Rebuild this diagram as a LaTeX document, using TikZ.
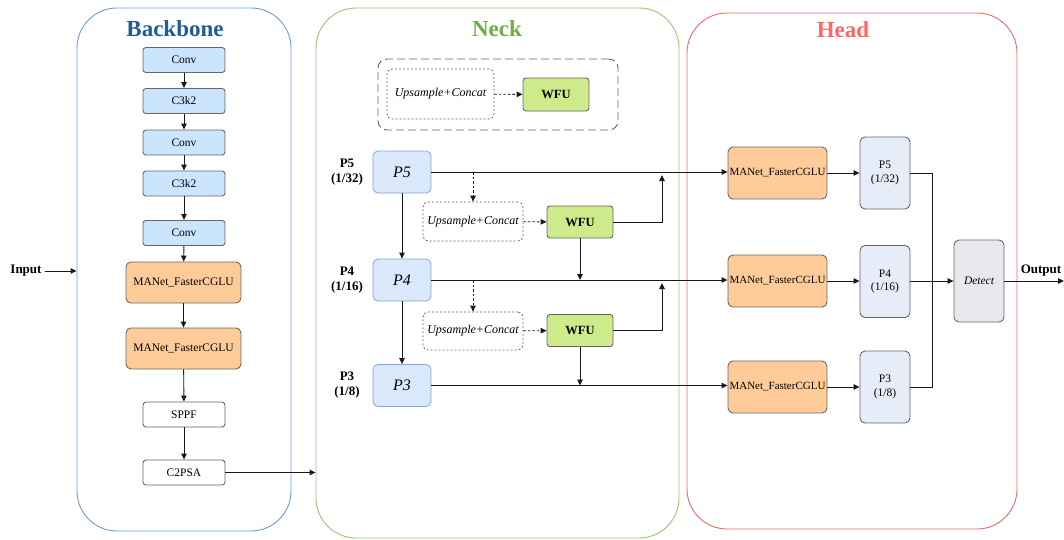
\documentclass[tikz,border=0pt]{standalone}
\usepackage{fontspec}
\setmainfont{Liberation Serif}
\usetikzlibrary{arrows.meta}

\definecolor{bbline}{HTML}{6C9BD2}
\definecolor{bbtitle}{HTML}{1F5C99}
\definecolor{nkline}{HTML}{9AC47A}
\definecolor{nktitle}{HTML}{70AD47}
\definecolor{hdline}{HTML}{EA6B66}
\definecolor{hdtitle}{HTML}{FF6666}
\definecolor{convfill}{HTML}{CCE5FF}
\definecolor{manfill}{HTML}{FFCC99}
\definecolor{wfufill}{HTML}{CDEB8B}
\definecolor{pfill}{HTML}{DAE8FC}
\definecolor{pline}{HTML}{7EA6E0}
\definecolor{hpfill}{HTML}{E6ECF8}
\definecolor{detfill}{HTML}{EAE7EF}
\definecolor{edge}{HTML}{666666}
\definecolor{wire}{HTML}{1A1A1A}

\tikzset{
  x=1pt, y=-1pt,
  panel/.style={draw, line width=0.9pt, rounded corners=40pt, inner sep=0pt},
  ptitle/.style={font=\fontsize{23}{26}\selectfont\bfseries},
  blk/.style={draw=edge, line width=0.9pt, rounded corners=3pt, inner sep=0pt,
    font=\fontsize{11.5}{13.5}\selectfont, align=center},
  convbox/.style={blk, fill=convfill, minimum width=82pt, minimum height=25pt},
  plainbox/.style={blk, fill=white, minimum width=82pt, minimum height=25pt},
  manbox/.style={blk, fill=manfill, rounded corners=5pt, minimum width=115pt, minimum height=41pt},
  hmanbox/.style={blk, fill=manfill, rounded corners=5pt, minimum width=99pt, minimum height=52pt,
    font=\fontsize{11}{13}\selectfont},
  wfubox/.style={blk, fill=wfufill, minimum width=66pt, minimum height=33pt,
    font=\fontsize{12.5}{14}\selectfont\bfseries},
  upbox/.style={draw=edge, line width=0.8pt, dash pattern=on 2pt off 2pt, rounded corners=5pt,
    inner sep=0pt, font=\fontsize{12}{14}\selectfont\itshape},
  pbox/.style={draw=pline, line width=0.8pt, fill=pfill, rounded corners=5pt, inner sep=0pt,
    minimum width=58pt, minimum height=42pt, font=\fontsize{16}{18}\selectfont\itshape},
  hpbox/.style={blk, fill=hpfill, rounded corners=5pt, minimum width=50pt, minimum height=72pt},
  plabel/.style={font=\fontsize{13}{15}\selectfont\bfseries, align=center},
  arr/.style={draw=wire, line width=0.9pt, -{Triangle[length=6pt,width=5.5pt]}},
  ln/.style={draw=wire, line width=0.9pt},
  darr/.style={draw=wire, line width=0.9pt, dash pattern=on 2.5pt off 2pt,
    -{Triangle[length=6pt,width=5.5pt]}},
}

\begin{document}
\begin{tikzpicture}
\useasboundingbox (0,0) rectangle (1064,539);

% ---------- panels ----------
\node[panel, draw=bbline, minimum width=214pt, minimum height=523pt] (backbone) at (184,269.5) {};
\node[panel, draw=nkline, minimum width=363pt, minimum height=530pt] (neck) at (497.5,273) {};
\node[panel, draw=hdline, minimum width=330pt, minimum height=516pt] (head) at (852,271) {};

\node[ptitle, text=bbtitle] (tbb) at (175,29) {Backbone};
\node[ptitle, text=nktitle] (tnk) at (497,29) {Neck};
\node[ptitle, text=hdtitle] (thd) at (843,30) {Head};

% ---------- backbone ----------
\node[convbox] (b1) at (184,60) {Conv};
\node[convbox] (b2) at (184,101) {C3k2};
\node[convbox] (b3) at (184,142.5) {Conv};
\node[convbox] (b4) at (184,183.5) {C3k2};
\node[convbox] (b5) at (184,233) {Conv};
\node[manbox] (b6) at (183.5,282.5) {MANet\_FasterCGLU};
\node[manbox] (b7) at (183.5,348.5) {MANet\_FasterCGLU};
\node[plainbox] (b8) at (184,414.5) {SPPF};
\node[plainbox] (b9) at (184,472.5) {C2PSA};

\foreach \a/\b in {b1/b2,b2/b3,b3/b4,b4/b5,b5/b6,b6/b7,b7/b8,b8/b9}
  \draw[arr] (\a) -- (\b);

\node[font=\fontsize{13}{15}\selectfont\bfseries] (inp) at (26,271) {Input};
\draw[arr] (inp.east) -- (inp.east -| backbone.west);
\draw[arr] (b9.east) -- (b9.east -| neck.west);

% ---------- neck: legend ----------
\node[draw=edge, line width=0.9pt, dash pattern=on 8pt off 4pt, rounded corners=9pt,
  minimum width=240pt, minimum height=71pt] (legend) at (498,94.5) {};
\node[upbox, minimum width=107pt, minimum height=50pt] (lup) at (440.5,94) {Upsample+Concat};
\node[wfubox] (lwfu) at (556,94.5) {WFU};
\draw[darr] (lup) -- (lwfu);

% ---------- neck: pyramid ----------
\node[pbox] (p5) at (402,172) {P5};
\node[pbox] (p4) at (402,280) {P4};
\node[pbox] (p3) at (402,385.5) {P3};

\node[plabel] (l5) at (347,172) {P5\\(1/32)};
\node[plabel] (l4) at (347,280) {P4\\(1/16)};
\node[plabel] (l3) at (347,385) {P3\\(1/8)};

\node[upbox, minimum width=100pt, minimum height=39pt] (up2) at (473,221.5) {Upsample+Concat};
\node[upbox, minimum width=100pt, minimum height=38pt] (up3) at (473,331) {Upsample+Concat};
\node[wfubox, minimum height=32pt] (w2) at (580,222) {WFU};
\node[wfubox, minimum height=32pt] (w3) at (580,330.5) {WFU};

% ---------- head ----------
\node[hmanbox] (m5) at (777.5,173) {MANet\_FasterCGLU};
\node[hmanbox] (m4) at (777.5,281) {MANet\_FasterCGLU};
\node[hmanbox] (m3) at (777.5,387) {MANet\_FasterCGLU};

\node[hpbox] (h5) at (885,173) {P5\\(1/32)};
\node[hpbox] (h4) at (885,281.5) {P4\\(1/16)};
\node[hpbox] (h3) at (885,387) {P3\\(1/8)};

\node[blk, fill=detfill, rounded corners=5pt, minimum width=50pt, minimum height=82pt,
  font=\fontsize{11.5}{13.5}\selectfont\itshape] (det) at (979,281) {Detect};

\node[font=\fontsize{13}{15}\selectfont\bfseries] (outl) at (1041,271) {Output};
\coordinate (out) at (1064,281);
\coordinate (bus) at (932,281);
\coordinate (j5) at (662,175);
\coordinate (j4) at (662,283);

% ---------- neck connectors ----------
\draw[arr] (p5.east) -- (p5.east -| m5.west);
\draw[arr] (p4.east) -- (p4.east -| m4.west);
\draw[arr] (p3.east) -- (p3.east -| m3.west);

\draw[arr] (p5) -- (p4);
\draw[arr] (p4) -- (p3);

\draw[darr] (up2.north |- p5.east) -- (up2.north);
\draw[darr] (up3.north |- p4.east) -- (up3.north);
\draw[darr] (up2) -- (w2);
\draw[darr] (up3) -- (w3);

\draw[arr] (w2.east) -| (j5);
\draw[arr] (w3.east) -| (j4);
\draw[arr] (w2.south) -- (w2.south |- p4.east);
\draw[arr] (w3.south) -- (w3.south |- p3.east);

% ---------- head connectors ----------
\draw[arr] (m5) -- (h5.west |- m5);
\draw[arr] (m4) -- (h4.west |- m4);
\draw[arr] (m3) -- (h3.west |- m3);
\draw[ln] (h5.east |- m5) -- (bus |- m5) -- (bus |- m3) -- (h3.east |- m3);
\draw[arr] (h4.east |- det) -- (det.west);
\draw[arr] (det.east) -- (out);
\end{tikzpicture}
\end{document}
